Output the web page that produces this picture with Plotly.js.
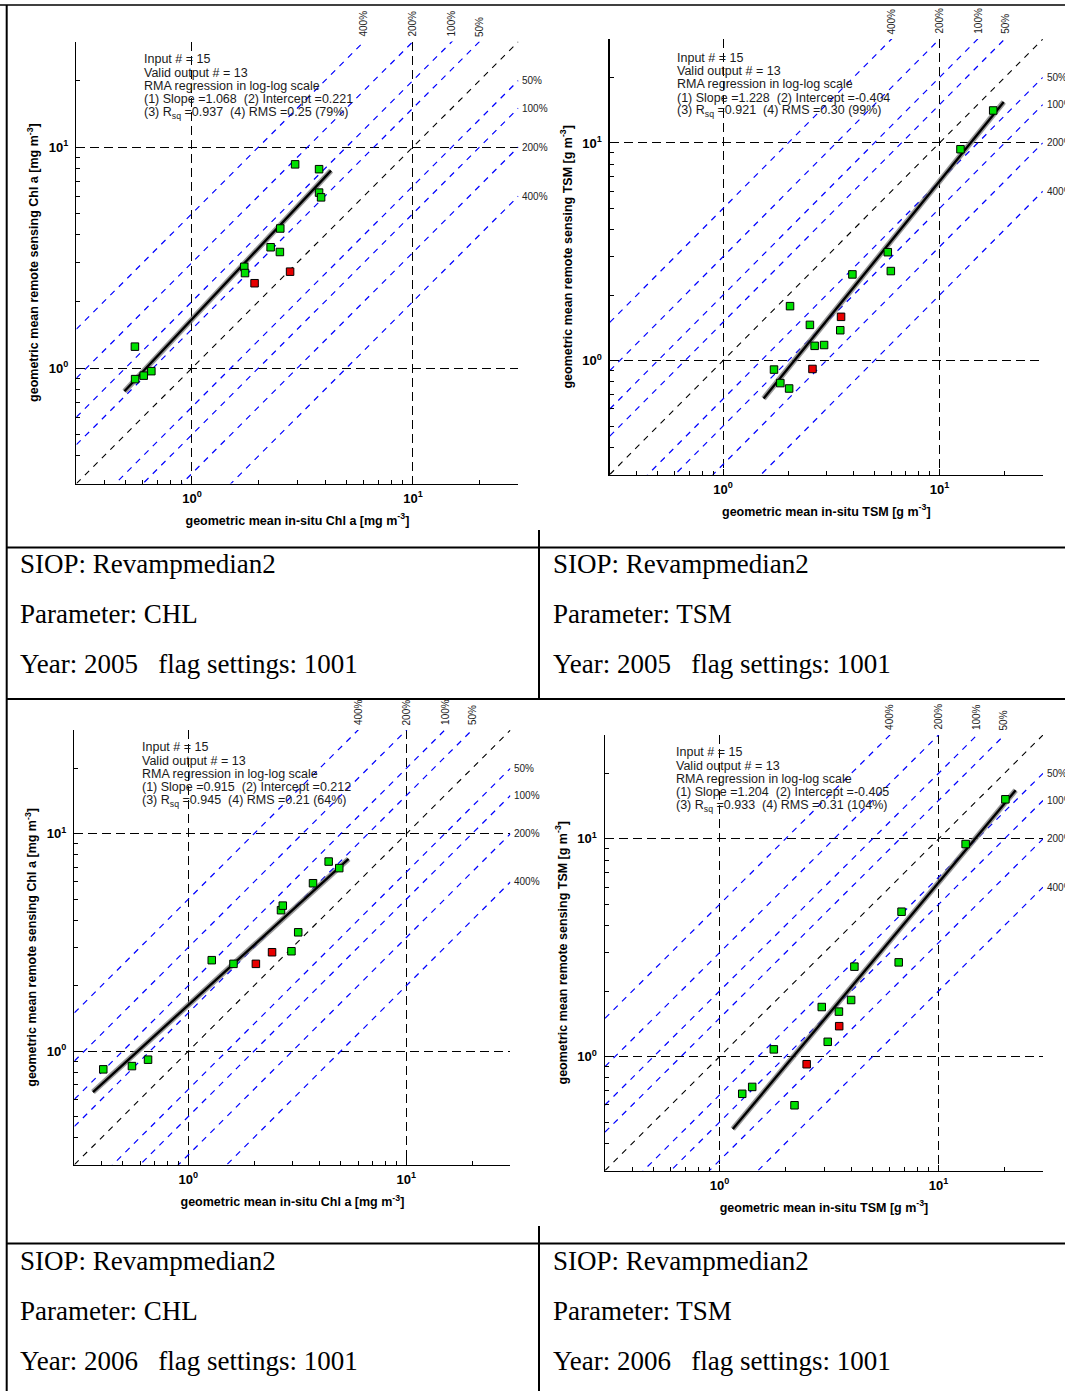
<!DOCTYPE html>
<html><head><meta charset="utf-8">
<script src="https://cdn.plot.ly/plotly-3.0.1.min.js"></script>
<style>html,body{margin:0;padding:0;background:#fff;} #fig{width:1065px;height:1391px;}</style>
</head><body><div id="fig"></div>
<script>
// ---------------- data ----------------
// Panel: CHL 2005
const chl2005ValidInsitu = [0.552,0.553,0.605,0.655,1.725,1.738,2.27,2.50,2.51,2.93,3.76,3.76,3.84];
const chl2005ValidRS     = [1.25,0.891,0.924,0.968,2.87,2.69,3.52,3.35,4.28,8.35,7.94,6.22,5.92];
const chl2005FlagInsitu  = [1.92,2.78];
const chl2005FlagRS      = [2.42,2.73];
const chl2005FitX        = [0.495,4.26];
const chl2005FitCoef     = [1.068,0.221];
const chl2005Stats = ['Input # = 15','Valid output # = 13','RMA regression in log-log scale',
  '(1) Slope =1.068\u00a0\u00a0(2) Intercept =0.221','(3) R<sub>sq</sub> =0.937\u00a0\u00a0(4) RMS =0.25 (79%)'];

// Panel: TSM 2005
const tsm2005ValidInsitu = [1.72,1.84,2.02,2.04,2.52,2.65,2.93,3.48,3.96,5.77,5.96,12.5,17.7];
const tsm2005ValidRS     = [0.91,0.789,0.745,1.78,1.46,1.17,1.18,1.38,2.49,3.15,2.58,9.36,14.1];
const tsm2005FlagInsitu  = [2.59,3.51];
const tsm2005FlagRS      = [0.916,1.59];
const tsm2005FitX        = [1.54,19.8];
const tsm2005FitCoef     = [1.228,-0.404];
const tsm2005Stats = ['Input # = 15','Valid output # = 13','RMA regression in log-log scale',
  '(1) Slope =1.228\u00a0\u00a0(2) Intercept =-0.404','(3) R<sub>sq</sub> =0.921\u00a0\u00a0(4) RMS =0.30 (99%)'];

// Panel: CHL 2006
const chl2006ValidInsitu = [0.407,0.551,0.653,1.28,1.61,2.66,2.71,2.97,3.19,3.73,4.40,4.92];
const chl2006ValidRS     = [0.824,0.853,0.913,2.62,2.52,4.45,4.67,2.88,3.52,5.92,7.45,6.95];
const chl2006FlagInsitu  = [2.04,2.42];
const chl2006FlagRS      = [2.52,2.85];
const chl2006FitX        = [0.365,5.43];
const chl2006FitCoef     = [0.915,0.212];
const chl2006Stats = ['Input # = 15','Valid output # = 13','RMA regression in log-log scale',
  '(1) Slope =0.915\u00a0\u00a0(2) Intercept =0.212','(3) R<sub>sq</sub> =0.945\u00a0\u00a0(4) RMS =0.21 (64%)'];

// Panel: TSM 2006
const tsm2006ValidInsitu = [1.27,1.41,1.77,2.20,2.93,3.12,3.51,3.99,4.13,6.58,6.78,13.3,20.2];
const tsm2006ValidRS     = [0.675,0.726,1.08,0.598,1.69,1.17,1.61,1.82,2.59,2.71,4.63,9.47,15.2];
const tsm2006FlagInsitu  = [2.50,3.52];
const tsm2006FlagRS      = [0.923,1.38];
const tsm2006FitX        = [1.15,22.5];
const tsm2006FitCoef     = [1.204,-0.405];
const tsm2006Stats = ['Input # = 15','Valid output # = 13','RMA regression in log-log scale',
  '(1) Slope =1.204\u00a0\u00a0(2) Intercept =-0.405','(3) R<sub>sq</sub> =0.933\u00a0\u00a0(4) RMS =0.31 (104%)'];

const pctLevels   = [50,100,200,400];
const pctLabels   = ['50%','100%','200%','400%'];
const axisLimits  = [0.3,30];
const majorTicks  = [1,10];
const majorText   = ['10<sup>0</sup>','10<sup>1</sup>'];
const minorTicks  = [0.3,0.4,0.5,0.6,0.7,0.8,0.9,2,3,4,5,6,7,8,9,20,30];

const cellSIOP   = ['SIOP: Revampmedian2','SIOP: Revampmedian2','SIOP: Revampmedian2','SIOP: Revampmedian2'];
const cellParam  = ['Parameter: CHL','Parameter: TSM','Parameter: CHL','Parameter: TSM'];
const cellYear   = ['Year: 2005\u00a0\u00a0\u00a0flag settings: 1001','Year: 2005\u00a0\u00a0\u00a0flag settings: 1001',
                    'Year: 2006\u00a0\u00a0\u00a0flag settings: 1001','Year: 2006\u00a0\u00a0\u00a0flag settings: 1001'];

// ---------------- layout helpers ----------------
const W = 1065, H = 1391;
const px = v => v / W;
const py = v => 1 - v / H;
const SANS = 'Liberation Sans, Arial, sans-serif';
const SERIF = 'Liberation Serif, Times New Roman, serif';

const panels = [
  {box:[76.4,41.6,518.4,483.6], vx:chl2005ValidInsitu, vy:chl2005ValidRS, fxs:chl2005FlagInsitu, fys:chl2005FlagRS,
   fitX:chl2005FitX, coef:chl2005FitCoef, stats:chl2005Stats, tx:143, tb:[61.7,75,88.3,101.7,114],
   xt:'geometric mean in-situ Chl a [mg m<sup>-3</sup>]', yt:'geometric mean remote sensing Chl a [mg m<sup>-3</sup>]'},
  {box:[609.8,39.1,1042.8,474.5], vx:tsm2005ValidInsitu, vy:tsm2005ValidRS, fxs:tsm2005FlagInsitu, fys:tsm2005FlagRS,
   fitX:tsm2005FitX, coef:tsm2005FitCoef, stats:tsm2005Stats, tx:676, tb:[60,73.3,86.7,100,112.3],
   xt:'geometric mean in-situ TSM [g m<sup>-3</sup>]', yt:'geometric mean remote sensing TSM [g m<sup>-3</sup>]'},
  {box:[74.4,730.1,510.4,1164.7], vx:chl2006ValidInsitu, vy:chl2006ValidRS, fxs:chl2006FlagInsitu, fys:chl2006FlagRS,
   fitX:chl2006FitX, coef:chl2006FitCoef, stats:chl2006Stats, tx:140.5, tb:[749.7,763,776.3,789.7,802],
   xt:'geometric mean in-situ Chl a [mg m<sup>-3</sup>]', yt:'geometric mean remote sensing Chl a [mg m<sup>-3</sup>]'},
  {box:[605,735,1043,1170.5], vx:tsm2006ValidInsitu, vy:tsm2006ValidRS, fxs:tsm2006FlagInsitu, fys:tsm2006FlagRS,
   fitX:tsm2006FitX, coef:tsm2006FitCoef, stats:tsm2006Stats, tx:675, tb:[754.7,768,781.3,794.7,807],
   xt:'geometric mean in-situ TSM [g m<sup>-3</sup>]', yt:'geometric mean remote sensing TSM [g m<sup>-3</sup>]'}
];

const traces = [];
const layout = {
  width: W, height: H, margin:{l:0,r:0,t:0,b:0}, showlegend:false,
  paper_bgcolor:'#fff', plot_bgcolor:'rgba(0,0,0,0)',
  font:{family:SANS, color:'#000'},
  annotations:[], shapes:[]
};

const logRange = [Math.log10(axisLimits[0]), Math.log10(axisLimits[1])];

panels.forEach((p, i) => {
  const n = i === 0 ? '' : String(i + 1);
  const xa = 'x' + n, ya = 'y' + n;
  const [l, t, r, b] = p.box;
  const common = {
    type:'log', range:logRange, tickvals:majorTicks, ticktext:majorText,
    ticks:'inside', ticklen:6, tickwidth:1, tickcolor:'#000',
    showline:true, linecolor:'#000', linewidth:1.5, mirror:false,
    showgrid:true, gridcolor:'#000', gridwidth:1, griddash:'9px,5px', zeroline:false,
    tickfont:{family:SANS, size:13, color:'#000', weight:'bold'},
    minor:{tickvals:minorTicks, ticks:'inside', ticklen:4, tickwidth:1, tickcolor:'#000', showgrid:false},
    fixedrange:true
  };
  layout['xaxis' + n] = Object.assign({}, common, {
    domain:[px(l), px(r)], anchor:ya, ticklabelstandoff:2,
    title:{text:p.xt, font:{family:SANS, size:12.5, color:'#000', weight:'bold'}, standoff:11}
  });
  layout['yaxis' + n] = Object.assign({}, common, {
    domain:[py(b), py(t)], anchor:xa, ticklabelstandoff:4,
    title:{text:p.yt, font:{family:SANS, size:12.5, color:'#000', weight:'bold'}, standoff:7}
  });

  // 1:1 line
  traces.push({x:axisLimits, y:axisLimits, xaxis:xa, yaxis:ya, mode:'lines',
    line:{color:'#000', width:1.1, dash:'6px,6px'}, hoverinfo:'skip'});
  // percentage lines
  pctLevels.forEach(pc => {
    const f = 1 + pc / 100;
    traces.push({x:axisLimits, y:axisLimits.map(v => v * f), xaxis:xa, yaxis:ya, mode:'lines',
      line:{color:'#0000ff', width:1.2, dash:'6px,6px'}, hoverinfo:'skip'});
    traces.push({x:axisLimits, y:axisLimits.map(v => v / f), xaxis:xa, yaxis:ya, mode:'lines',
      line:{color:'#0000ff', width:1.2, dash:'6px,6px'}, hoverinfo:'skip'});
  });
  // regression line (from stated slope/intercept in log-log space)
  const fitY = p.fitX.map(v => Math.pow(10, p.coef[0] * Math.log10(v) + p.coef[1]));
  traces.push({x:p.fitX, y:fitY, xaxis:xa, yaxis:ya, mode:'lines',
    line:{color:'rgba(120,120,120,0.75)', width:5.5}, hoverinfo:'skip'});
  traces.push({x:p.fitX, y:fitY, xaxis:xa, yaxis:ya, mode:'lines',
    line:{color:'#000', width:2.4}, hoverinfo:'skip'});
  // points
  traces.push({x:p.vx, y:p.vy, xaxis:xa, yaxis:ya, mode:'markers',
    marker:{symbol:'square', size:7.5, color:'#00e000', line:{color:'#000', width:1}}});
  traces.push({x:p.fxs, y:p.fys, xaxis:xa, yaxis:ya, mode:'markers',
    marker:{symbol:'square', size:7.5, color:'#e80000', line:{color:'#000', width:1}}});

  // stats text
  p.stats.forEach((s, k) => {
    layout.annotations.push({xref:'paper', yref:'paper', x:px(p.tx - 1), y:py(p.tb[k] - 11.5),
      xanchor:'left', yanchor:'top', text:s, showarrow:false, align:'left',
      font:{family:SANS, size:12.5, color:'#1a1a1a'}});
  });
  // percentage labels: top (rotated) and right
  pctLevels.forEach((pc, k) => {
    const f = 1 + pc / 100;
    layout.annotations.push({xref:xa, yref:ya + ' domain', x:Math.log10(axisLimits[1] / f), y:1,
      xanchor:'center', yanchor:'bottom', yshift:3, textangle:-90, text:pctLabels[k], showarrow:false,
      font:{family:SANS, size:10, color:'#222'}});
    layout.annotations.push({xref:xa + ' domain', yref:ya, x:1, y:Math.log10(axisLimits[1] / f),
      xanchor:'left', yanchor:'middle', xshift:2, text:pctLabels[k], showarrow:false,
      font:{family:SANS, size:10, color:'#222'}});
  });
});

// table text cells
const cellX = [18, 551, 18, 551];
const cellY0 = [564, 564, 1261, 1261];
for (let i = 0; i < 4; i++) {
  [cellSIOP[i], cellParam[i], cellYear[i]].forEach((s, k) => {
    layout.annotations.push({xref:'paper', yref:'paper', x:px(cellX[i]), y:py(cellY0[i] + 50 * k),
      xanchor:'left', yanchor:'middle', text:s, showarrow:false,
      font:{family:SERIF, size:27, color:'#000'}});
  });
}

// table borders
const ln = (x0, y0, x1, y1, w) => ({type:'line', xref:'paper', yref:'paper',
  x0:px(x0), y0:py(y0), x1:px(x1), y1:py(y1), line:{color:'#000', width:w}});
layout.shapes.push(
  ln(0, 5, 1065, 5, 1.5),
  ln(6.7, 5, 6.7, 1391, 2),
  ln(6, 547.5, 1065, 547.5, 2),
  ln(6, 699, 1065, 699, 2),
  ln(6, 1243.5, 1065, 1243.5, 2),
  ln(539, 530, 539, 699, 2),
  ln(539, 1226, 539, 1391, 2)
);

Plotly.newPlot('fig', traces, layout, {staticPlot:true, displayModeBar:false});
</script>
</body></html>
